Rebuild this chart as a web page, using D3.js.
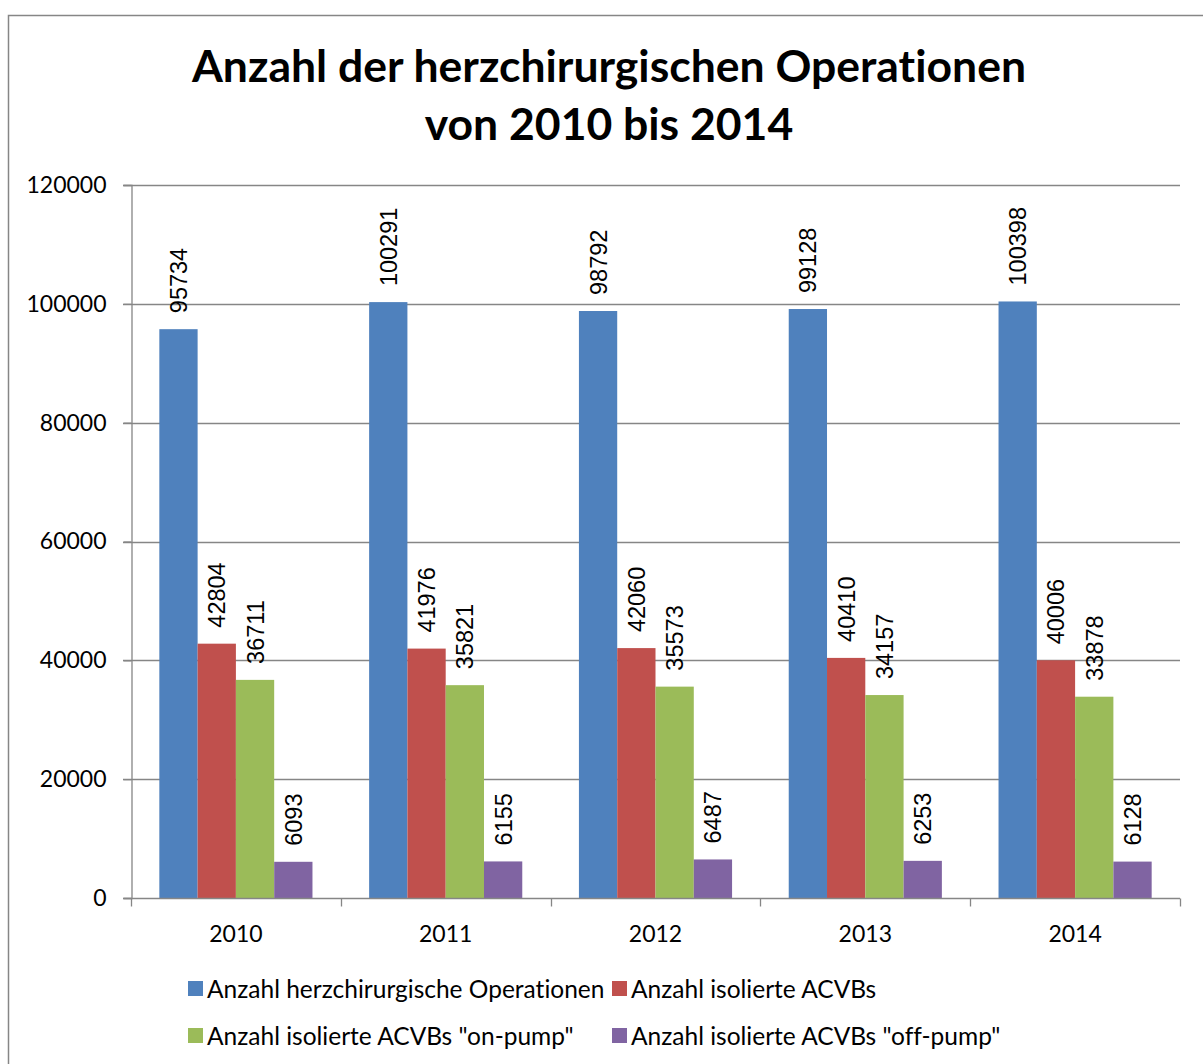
<!DOCTYPE html>
<html>
<head>
<meta charset="utf-8">
<script src="https://cdn.jsdelivr.net/npm/d3@7"></script>
<style>
  body { margin: 0; background: #fff; }
  svg { display: block; }
  text { font-variant-ligatures: none; font-feature-settings: "liga" 0; }
</style>
</head>
<body>
<div id="chart"></div>
<script>
// chart data
const years = ["2010", "2011", "2012", "2013", "2014"];
const seriesNames = [
    "Anzahl herzchirurgische Operationen",
    "Anzahl isolierte ACVBs",
    "Anzahl isolierte ACVBs \"on-pump\"",
    "Anzahl isolierte ACVBs \"off-pump\""
];
const opsTotal = [95734, 100291, 98792, 99128, 100398];
const acvbIsolated = [42804, 41976, 42060, 40410, 40006];
const acvbOnPump = [36711, 35821, 35573, 34157, 33878];
const acvbOffPump = [6093, 6155, 6487, 6253, 6128];
const yTicks = [0, 20000, 40000, 60000, 80000, 100000, 120000];
const colors = ["#4F81BD", "#C0504D", "#9BBB59", "#8064A2"];

const allSeries = [opsTotal, acvbIsolated, acvbOnPump, acvbOffPump];

const W = 1203, H = 1064;
const plot = { left: 131, right: 1180, top: 185, bottom: 898 };
const uiFont = "Lato, 'Open Sans', sans-serif";
const labelFont = "'Liberation Sans', Arial, sans-serif";

const svg = d3.select("#chart").append("svg")
    .attr("width", W)
    .attr("height", H);

// outer frame (runs off the bottom/right)
svg.append("rect")
    .attr("x", 8.5).attr("y", 15.5)
    .attr("width", W + 20).attr("height", H + 20)
    .attr("fill", "#fff")
    .attr("stroke", "#868686")
    .attr("stroke-width", 1.5);

// title
const title = svg.append("text")
    .attr("text-anchor", "middle")
    .attr("font-family", uiFont)
    .attr("font-weight", "bold")
    .attr("font-size", 44.5)
    .attr("fill", "#000");
title.append("tspan").attr("x", 609).attr("y", 82).text("Anzahl der herzchirurgischen Operationen");
title.append("tspan").attr("x", 609).attr("y", 140).text("von 2010 bis 2014");

const x0 = d3.scaleBand()
    .domain(years)
    .range([plot.left, plot.right])
    .paddingInner(0)
    .paddingOuter(0);

const x1 = d3.scaleBand()
    .domain(d3.range(allSeries.length))
    .range([0, x0.bandwidth()])
    .paddingOuter(0.74)
    .paddingInner(0);

const y = d3.scaleLinear()
    .domain([0, 120000])
    .range([plot.bottom, plot.top]);

// gridlines
svg.append("g")
    .selectAll("line")
    .data(yTicks.filter(t => t > 0))
    .enter().append("line")
    .attr("x1", plot.left - 8)
    .attr("x2", plot.right)
    .attr("y1", d => Math.round(y(d)) + 0.5)
    .attr("y2", d => Math.round(y(d)) + 0.5)
    .attr("stroke", "#868686")
    .attr("stroke-width", 1.3);

// y axis
const yAxis = svg.append("g")
    .attr("transform", `translate(${plot.left + 0.5},0)`)
    .call(d3.axisLeft(y).tickValues(yTicks).tickSize(8).tickPadding(17).tickFormat(d3.format("d")));
yAxis.select(".domain").attr("stroke", "#868686").attr("stroke-width", 1.3);
yAxis.selectAll(".tick line").attr("stroke", "#868686").attr("stroke-width", 1.3);
yAxis.selectAll("text")
    .attr("font-family", uiFont)
    .attr("font-size", 23)
    .attr("fill", "#000");

// bars
const groups = svg.append("g")
    .selectAll("g")
    .data(years)
    .enter().append("g")
    .attr("transform", d => `translate(${x0(d)},0)`);

groups.selectAll("rect")
    .data((yr, i) => allSeries.map((s, k) => ({ k, v: s[i] })))
    .enter().append("rect")
    .attr("x", d => x1(d.k))
    .attr("width", x1.bandwidth())
    .attr("y", d => y(d.v))
    .attr("height", d => y(0) - y(d.v))
    .attr("fill", d => colors[d.k]);

groups.selectAll("text")
    .data((yr, i) => allSeries.map((s, k) => ({ k, v: s[i] })))
    .enter().append("text")
    .attr("transform", d => `translate(${x1(d.k) + x1.bandwidth() / 2},${y(d.v) - 16}) rotate(-90)`)
    .attr("dy", "0.36em")
    .attr("font-family", labelFont)
    .attr("font-size", 23.5)
    .attr("fill", "#000")
    .text(d => d.v);

// x axis
const xAxis = svg.append("g")
    .attr("transform", `translate(0,${plot.bottom + 0.5})`);
xAxis.append("line")
    .attr("x1", plot.left - 8).attr("x2", plot.right)
    .attr("stroke", "#868686").attr("stroke-width", 1.3);
xAxis.selectAll(".tk")
    .data(years.map(d => x0(d)).concat([plot.right]))
    .enter().append("line")
    .attr("x1", d => Math.round(d) + 0.5).attr("x2", d => Math.round(d) + 0.5)
    .attr("y1", 0).attr("y2", 8)
    .attr("stroke", "#868686").attr("stroke-width", 1.3);
xAxis.selectAll("text")
    .data(years)
    .enter().append("text")
    .attr("x", d => x0(d) + x0.bandwidth() / 2)
    .attr("y", 35)
    .attr("dy", "0.35em")
    .attr("text-anchor", "middle")
    .attr("font-family", uiFont)
    .attr("font-size", 23)
    .attr("fill", "#000")
    .text(d => d);

// legend
const legendPos = [[188, 989], [612, 989], [188, 1036], [612, 1036]];
const legend = svg.append("g")
    .selectAll("g")
    .data(seriesNames)
    .enter().append("g")
    .attr("transform", (d, i) => `translate(${legendPos[i][0]},${legendPos[i][1]})`);
legend.append("rect")
    .attr("x", 0).attr("y", -8)
    .attr("width", 15).attr("height", 15)
    .attr("fill", (d, i) => colors[i]);
legend.append("text")
    .attr("x", 19)
    .attr("dy", "0.35em")
    .attr("font-family", uiFont)
    .attr("font-size", 24.5)
    .attr("fill", "#000")
    .text(d => d);
</script>
</body>
</html>
